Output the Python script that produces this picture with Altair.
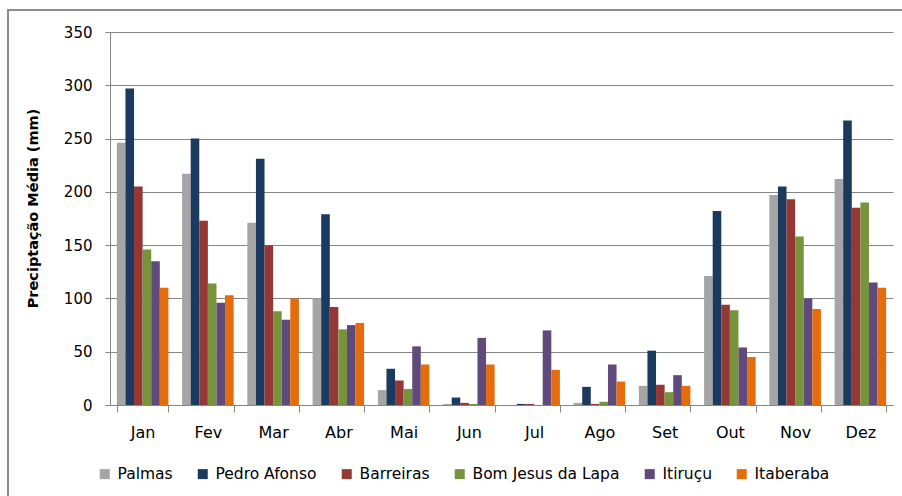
import altair as alt
import pandas as pd

# Mean monthly precipitation (mm) per station
meses = ["Jan", "Fev", "Mar", "Abr", "Mai", "Jun", "Jul", "Ago", "Set", "Out", "Nov", "Dez"]
estacoes = ["Palmas", "Pedro Afonso", "Barreiras", "Bom Jesus da Lapa", "Itiruçu", "Itaberaba"]

palmas = [246, 217, 171, 100, 14, 1, 0, 2, 18, 121, 197, 212]
pedro_afonso = [297, 250, 231, 179, 34, 7, 1, 17, 51, 182, 205, 267]
barreiras = [205, 173, 150, 92, 23, 2, 1, 1, 19, 94, 193, 185]
bom_jesus_da_lapa = [146, 114, 88, 71, 15, 1, 0, 3, 12, 89, 158, 190]
itirucu = [135, 96, 80, 75, 55, 63, 70, 38, 28, 54, 100, 115]
itaberaba = [110, 103, 100, 77, 38, 38, 33, 22, 18, 45, 90, 110]

cores = ["#A5A5A5", "#1B3A5F", "#953735", "#77933C", "#604A7B", "#E46C0A"]
y_ticks = [0, 50, 100, 150, 200, 250, 300, 350]

series = [palmas, pedro_afonso, barreiras, bom_jesus_da_lapa, itirucu, itaberaba]
rows = []
for nome, valores in zip(estacoes, series):
    for mes, v in zip(meses, valores):
        rows.append({"mes": mes, "estacao": nome, "valor": v})
df = pd.DataFrame(rows)

FONT = "DejaVu Sans"
GRAY = "#868686"

bars = alt.Chart(df).mark_bar().encode(
    x=alt.X(
        "mes:N",
        sort=meses,
        scale=alt.Scale(paddingInner=0.21, paddingOuter=0.105),
        axis=alt.Axis(
            title=None,
            labelAngle=0,
            tickBand="extent",
            tickSize=7,
            tickColor=GRAY,
            domainColor=GRAY,
            labelFont=FONT,
            labelFontSize=16,
            labelColor="#000000",
            labelPadding=12,
            grid=False,
        ),
    ),
    xOffset=alt.XOffset("estacao:N", sort=estacoes,
                        scale=alt.Scale(paddingInner=0, paddingOuter=0)),
    y=alt.Y(
        "valor:Q",
        scale=alt.Scale(domain=[0, 350], nice=False),
        axis=alt.Axis(
            values=y_ticks,
            grid=True,
            gridColor=GRAY,
            gridWidth=1,
            domainColor=GRAY,
            tickColor=GRAY,
            tickSize=5,
            labelPadding=13,
            labelFont=FONT,
            labelFontSize=15,
            labelColor="#000000",
            title="Preciptação Média (mm)",
            titleFont=FONT,
            titleFontSize=14.5,
            titleFontWeight="bold",
            titleColor="#000000",
            titleAngle=270,
            titleAlign="center",
            titleBaseline="middle",
            titleX=-77,
            titleY=176,
        ),
    ),
    color=alt.Color(
        "estacao:N",
        sort=estacoes,
        scale=alt.Scale(domain=estacoes, range=cores),
        legend=alt.Legend(
            title=None,
            orient="none",
            direction="horizontal",
            columns=6,
            legendX=-13,
            legendY=434,
            symbolType="square",
            symbolSize=100,
            symbolStrokeWidth=0,
            labelFont=FONT,
            labelFontSize=15.5,
            labelColor="#000000",
            labelOffset=5,
            columnPadding=22,
        ),
    ),
)

# Outer chart frame (top and left edges)
frame_df = pd.DataFrame({"k": [0]})
frame_left = alt.Chart(frame_df).mark_rule(color="#8C8C8C", strokeWidth=2).encode(
    x=alt.value(-102), y=alt.value(-22), y2=alt.value(470)
)
frame_top = alt.Chart(frame_df).mark_rule(color="#8C8C8C", strokeWidth=2).encode(
    x=alt.value(-103), x2=alt.value(800), y=alt.value(-22)
)

chart = alt.layer(bars, frame_left, frame_top).properties(
    width=783,
    height=373,
    autosize=alt.AutoSizeParams(type="none"),
    padding={"left": 110, "top": 32, "right": 9, "bottom": 91},
    background="#FFFFFF",
).configure_view(stroke=None)

chart.save("out.html", embed_options={"renderer": "svg", "actions": False})
